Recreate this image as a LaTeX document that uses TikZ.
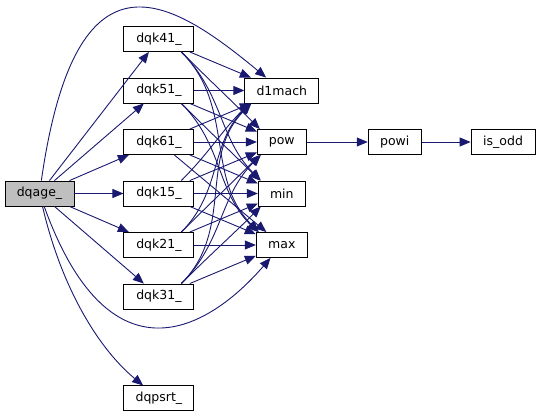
\documentclass[tikz,border=0pt]{standalone}
\usepackage{fontspec}
\usepackage{xcolor}
\usepackage{tikz}
\usetikzlibrary{positioning}
\usetikzlibrary{arrows.meta}
\newfontfamily\graphfont{DejaVu Sans}
\definecolor{edgeblue}{HTML}{191970}
\definecolor{rootgray}{HTML}{BFBFBF}
\tikzset{
  func/.style={
    draw=black, line width=0.9pt, fill=white,
    minimum height=25pt, minimum width=#1, inner sep=0pt,
    font=\graphfont\fontsize{12.5}{14}\selectfont,
  },
  call/.style={
    draw=edgeblue, line width=0.9pt,
    -{Triangle[length=11pt,width=9pt]},
  },
  down call/.style={call, out=-45, in=135},
  up call/.style={call, out=45, in=-135},
}

\begin{document}
\begin{tikzpicture}[x=1pt, y=1pt, node distance=25.6pt]
  \useasboundingbox (0,0) rectangle (536,-415);

  % Define nodes
  \node[func=69pt, fill=rootgray] (dqage) at (39.5,-193.5) {dqage\_};

  \node[func=70pt, right=49pt of dqage] (dqk15) {dqk15\_};
  \node[func=70pt, above=of dqk15] (dqk61) {dqk61\_};
  \node[func=70pt, above=of dqk61] (dqk51) {dqk51\_};
  \node[func=70pt, above=of dqk51] (dqk41) {dqk41\_};
  \node[func=70pt, below=of dqk15] (dqk21) {dqk21\_};
  \node[func=70pt, below=of dqk21] (dqk31) {dqk31\_};
  \node[func=70pt, below=76pt of dqk31] (dqpsrt) {dqpsrt\_};

  \node[func=74pt, right=50pt of dqk51] (d1mach) {d1mach};
  \node[func=49pt, below=of d1mach] (pow) {pow};
  \node[func=47pt, below=of pow] (min) {min};
  \node[func=51pt, below=of min] (max) {max};

  \node[func=53pt, right=61pt of pow] (powi) {powi};
  \node[func=64pt, right=49pt of powi] (is_odd) {is\_odd};

  % Connect nodes
  \draw[call] (dqage) -- (dqk41);
  \draw[call] (dqage) -- (dqk51);
  \draw[call] (dqage) -- (dqk61);
  \draw[call] (dqage) -- (dqk15);
  \draw[call] (dqage) -- (dqk21);
  \draw[call] (dqage) -- (dqk31);
  \draw[call] (dqage) .. controls (76,61) and (170,2) .. (d1mach);
  \draw[call] (dqage) .. controls (107,-380) and (202,-337) .. (max);
  \draw[call] (dqage) .. controls (62,-290) and (100,-350) .. (dqpsrt);

  \draw[call] (dqk41) -- (d1mach);
  \draw[down call] (dqk41.-30) to ([xshift=3pt]pow.north west);
  \draw[down call] (dqk41.-30) to ([xshift=3pt]min.north west);
  \draw[down call] (dqk41.-30) to ([xshift=3pt]max.north west);

  \draw[call] (dqk51) -- (d1mach);
  \draw[call] (dqk51) -- (pow);
  \draw[down call] (dqk51.-30) to ([xshift=2pt]min.north west);
  \draw[down call] (dqk51.-30) to ([xshift=2pt]max.north west);

  \draw[call] (dqk61) -- (d1mach);
  \draw[call] (dqk61) -- (pow);
  \draw[call] (dqk61) -- (min);
  \draw[call] (dqk61) -- (max);

  \draw[up call] (dqk15.30) to ([xshift=5pt]d1mach.south west);
  \draw[call] (dqk15) -- (pow);
  \draw[call] (dqk15) -- (min);
  \draw[call] (dqk15) -- (max);

  \draw[up call] (dqk21.30) to ([xshift=6pt]d1mach.south west);
  \draw[up call] (dqk21.30) to ([xshift=3pt]pow.south west);
  \draw[call] (dqk21) -- (min);
  \draw[call] (dqk21) -- (max);

  \draw[up call] (dqk31.30) to ([xshift=7pt]d1mach.south west);
  \draw[up call] (dqk31.30) to ([xshift=4pt]pow.south west);
  \draw[up call] (dqk31.30) to ([xshift=3pt]min.south west);
  \draw[call] (dqk31) -- (max);

  \draw[call] (pow) -- (powi);
  \draw[call] (powi) -- (is_odd);

\end{tikzpicture}
\end{document}
